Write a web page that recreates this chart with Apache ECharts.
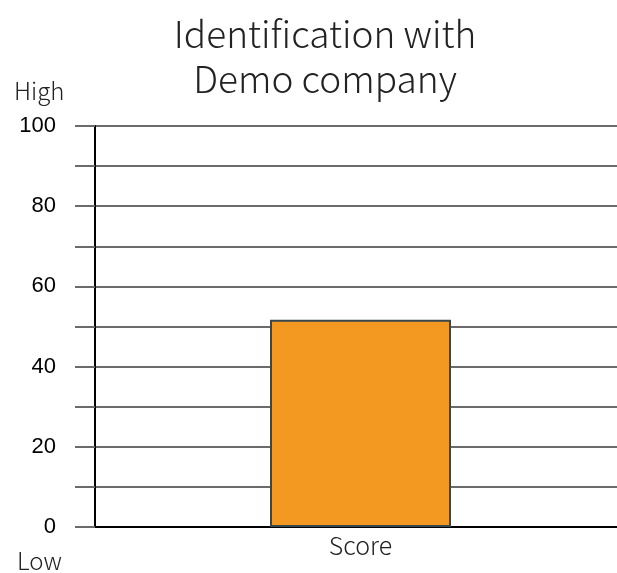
<!DOCTYPE html>
<html>
<head>
<meta charset="utf-8">
<script src="https://cdn.jsdelivr.net/npm/echarts@6/dist/echarts.min.js"></script>
<style>
  html, body { margin: 0; padding: 0; background: #fff; }
  #chart { width: 617px; height: 573px; }
</style>
</head>
<body>
<div id="chart"></div>
<script>
// data
var categories = ['Score'];
var scores = [51.7];
var yTicks = [0, 20, 40, 60, 80, 100];

var chart = echarts.init(document.getElementById('chart'));
var cjk = '"Noto Sans CJK JP", "Noto Sans", sans-serif';

var option = {
    backgroundColor: '#fff',
    animation: false,
    title: {
        text: 'Identification with\nDemo company',
        left: 320,
        textAlign: 'center',
        top: 6,
        textStyle: {
            fontFamily: cjk,
            fontSize: 37,
            fontWeight: 300,
            color: '#222',
            lineHeight: 45
        }
    },
    grid: {
        left: 95,
        right: -9,
        top: 126,
        bottom: 46,
        containLabel: false,
        outerBoundsMode: 'none'
    },
    xAxis: {
        type: 'category',
        data: categories,
        axisLine: { lineStyle: { color: '#000', width: 2 } },
        axisTick: { show: false },
        axisLabel: {
            fontFamily: cjk,
            fontSize: 25,
            fontWeight: 300,
            color: '#222',
            margin: 6
        }
    },
    yAxis: {
        type: 'value',
        min: 0,
        max: 100,
        interval: 10,
        axisLine: { show: true, lineStyle: { color: '#000', width: 2 } },
        axisTick: { show: true, length: 20, lineStyle: { color: '#6b6b6b', width: 2 } },
        splitLine: { show: true, lineStyle: { color: '#6b6b6b', width: 2 } },
        axisLabel: {
            fontFamily: '"Liberation Sans", Arial, sans-serif',
            fontSize: 22,
            color: '#000',
            margin: 39,
            formatter: function (v) {
                return yTicks.indexOf(v) >= 0 ? String(v) : '';
            }
        }
    },
    series: [{
        type: 'bar',
        data: scores,
        barWidth: 181,
        itemStyle: {
            color: '#F39820',
            borderColor: '#37474F',
            borderWidth: 2
        }
    }],
    graphic: [
        {
            type: 'text', left: 14, top: 79,
            style: { text: 'High', fontFamily: cjk, fontSize: 24, fontWeight: 300, fill: '#222' }
        },
        {
            type: 'text', left: 17, top: 549,
            style: { text: 'Low', fontFamily: cjk, fontSize: 24, fontWeight: 300, fill: '#222' }
        }
    ]
};
chart.setOption(option);
</script>
</body>
</html>
